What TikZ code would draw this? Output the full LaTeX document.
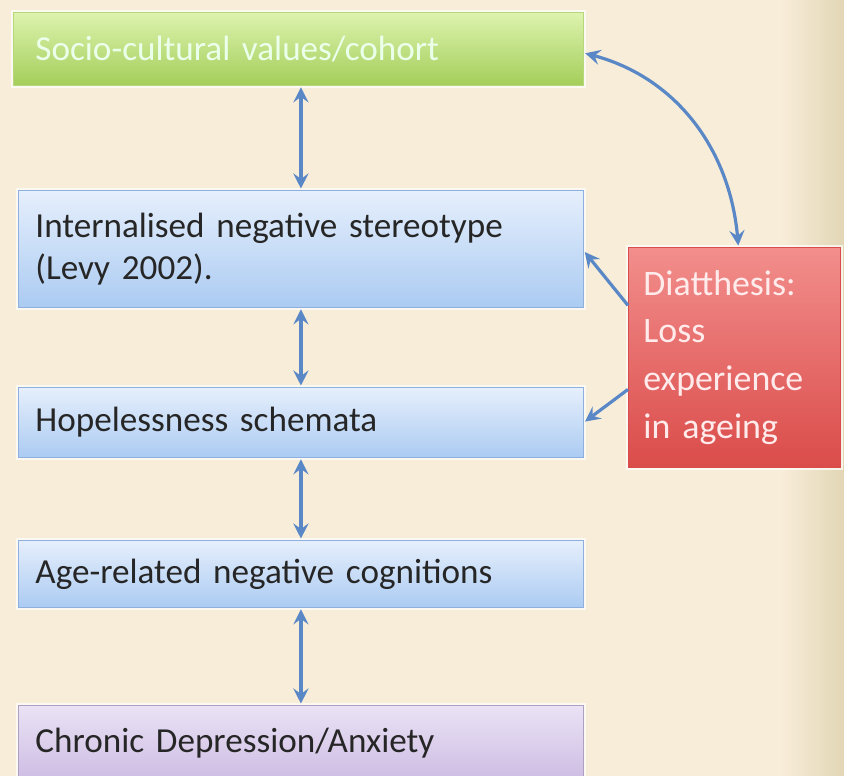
\documentclass[tikz,border=0pt]{standalone}
\usepackage{fontspec}
\setmainfont[WordSpace=0.85]{Carlito}
\usetikzlibrary{arrows.meta}

\definecolor{bgcream}{HTML}{F8EDD9}
\definecolor{bgtan}{HTML}{E2D6B6}
\definecolor{linkblue}{HTML}{5A88C6}
\definecolor{blueline}{HTML}{8FB0DE}
\definecolor{bluetop}{HTML}{E6EFFC}
\definecolor{bluebot}{HTML}{ABCBF2}
\definecolor{greentop}{HTML}{DDF3AE}
\definecolor{greenbot}{HTML}{A4CE5A}
\definecolor{purpletop}{HTML}{EAE2F5}
\definecolor{purplebot}{HTML}{CDBCE3}
\definecolor{redtop}{HTML}{F28E8C}
\definecolor{redbot}{HTML}{DA4C4A}

\begin{document}
\begin{tikzpicture}[x=0.25mm, y=-0.25mm,
  hd/.tip={Stealth[length=3.8mm,width=3.8mm,inset=1.4mm]},
  box/.style={rectangle, anchor=north west, align=left, inner ysep=0pt,
    line width=0.6pt, font=\fontsize{25}{30}\selectfont,
    preaction={draw=white, line width=3pt, opacity=0.7}},
  bluebox/.style={box, draw=blueline, top color=bluetop, bottom color=bluebot,
    text=black!85, inner xsep=4.25mm, text width=132.75mm},
  link/.style={draw=linkblue, line width=0.8mm}]

\clip (0,0) rectangle (844,776);
\fill[bgcream] (0,0) rectangle (844,776);
\shade[left color=bgcream, right color=bgtan] (780,0) rectangle (844,776);

\node[box, draw=greenbot!80!white, top color=greentop, bottom color=greenbot,
  text=white!92!green, inner xsep=5.5mm, text width=131.5mm,
  minimum height=18.25mm] (SC) at (13,12) {Socio-cultural values/cohort};

\node[bluebox, minimum height=29.25mm] (INS) at (18,190)
  {Internalised negative stereotype\\(Levy 2002).};
\node[bluebox, minimum height=17.5mm] (HOP) at (18,387) {Hopelessness schemata};
\node[bluebox, minimum height=16.75mm] (AGE) at (18,540) {Age-related negative cognitions};
\node[box, draw=purplebot!85!black, top color=purpletop, bottom color=purplebot,
  text=black!85, inner xsep=4.25mm, text width=132.75mm,
  minimum height=19mm] (DEP) at (18,705) {Chronic Depression/Anxiety};

\node[box, draw=redbot, top color=redtop, bottom color=redbot,
  text=red!8!white, inner xsep=3.75mm, text width=45.5mm,
  font=\fontsize{25.5}{34}\selectfont, minimum height=55mm] (DIA) at (628,247)
  {Diatthesis:\\Loss\\experience\\in ageing};

\draw[link, hd-hd, shorten <=1pt, shorten >=1pt] (INS.north |- SC.south) -- (INS.north);
\draw[link, hd-hd, shorten <=1pt, shorten >=1pt] (INS.south) -- (HOP.north);
\draw[link, hd-hd, shorten <=1pt, shorten >=1pt] (HOP.south) -- (AGE.north);
\draw[link, hd-hd, shorten <=1pt, shorten >=1pt] (AGE.south) -- (DEP.north);

\draw[link, hd-hd, shorten <=1pt, shorten >=1pt] ([yshift=-1mm]SC.east)
  to[out=-15, in=95] ([xshift=1mm]DIA.north);
\draw[link, -hd, shorten >=1pt] ([yshift=13mm]DIA.west) -- ([yshift=-0.5mm]INS.east);
\draw[link, -hd, shorten >=1pt] ([yshift=-8mm]DIA.west) -- (HOP.east);
\end{tikzpicture}
\end{document}
